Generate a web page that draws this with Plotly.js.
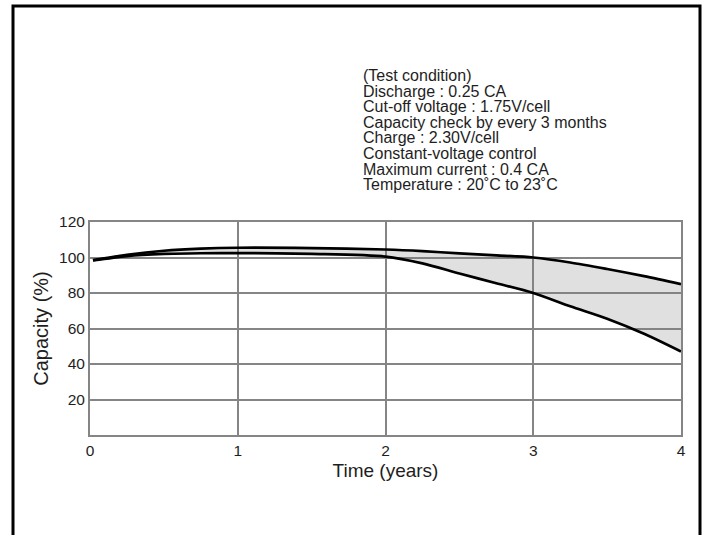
<!DOCTYPE html>
<html>
<head>
<meta charset="utf-8">
<script src="https://cdn.plot.ly/plotly-3.0.1.min.js"></script>
<style>
html,body{margin:0;padding:0;background:#fff;}
#chart{width:709px;height:535px;}
</style>
</head>
<body>
<div id="chart"></div>
<script>
// Data
var timeYears = [0.02, 0.25, 0.5, 0.75, 1, 1.5, 2, 2.25, 2.5, 2.75, 3, 3.25, 3.5, 3.75, 4];
var upperCapacity = [98.5, 101.5, 103.8, 105, 105.5, 105.3, 104.5, 103.6, 102.3, 101.2, 100, 97.2, 93.5, 89.5, 85];
var lowerCapacity = [98.3, 100.8, 102, 102.4, 102.5, 102, 100.5, 96.7, 91, 85.5, 80, 72.5, 65.5, 57, 47];
var xTicks = [0, 1, 2, 3, 4];
var yTicks = [20, 40, 60, 80, 100, 120];
var conditionLines = [
  "(Test condition)",
  "Discharge : 0.25 CA",
  "Cut-off voltage : 1.75V/cell",
  "Capacity check by every 3 months",
  "Charge : 2.30V/cell",
  "Constant-voltage control",
  "Maximum current : 0.4 CA",
  "Temperature : 20\u02daC to 23\u02daC"
];

var FONT = "Liberation Sans, Arial, Helvetica, sans-serif";
var GRID = "#858585";
var TXT = "#1e1e1e";

var traces = [
  {
    x: timeYears, y: upperCapacity, type: "scatter", mode: "lines",
    line: {color: "#000", width: 2.7, shape: "spline", smoothing: 0.8},
    hoverinfo: "skip", showlegend: false
  },
  {
    x: timeYears, y: lowerCapacity, type: "scatter", mode: "lines",
    fill: "tonexty", fillcolor: "rgba(128,128,128,0.244)",
    line: {color: "#000", width: 2.7, shape: "spline", smoothing: 0.8},
    hoverinfo: "skip", showlegend: false
  }
];

var plotL = 90, plotR = 681, plotT = 222, plotB = 435;
var pw = plotR - plotL, ph = plotB - plotT;
function px2x(p){ return (p - plotL) / pw; }
function py2y(p){ return (plotB - p) / ph; }

// one block of text; base size 12 sets the tight line pitch, spans set glyph size
var blockText = conditionLines.map(function(t){
  return '<span style="font-size:16px">' + t + '</span>';
}).join("<br>");

var layout = {
  width: 709, height: 535,
  margin: {l: plotL, r: 709 - plotR, t: plotT, b: 535 - plotB, pad: 0},
  paper_bgcolor: "#fff", plot_bgcolor: "#fff",
  font: {family: FONT, color: TXT},
  xaxis: {
    range: [0, 4], tickvals: xTicks, ticktext: xTicks.map(String),
    showgrid: true, gridcolor: GRID, gridwidth: 2,
    showline: true, linecolor: GRID, linewidth: 2, mirror: true,
    zeroline: false, ticks: "", fixedrange: true,
    tickfont: {family: FONT, size: 15.5, color: TXT},
    title: {text: "Time (years)", font: {family: FONT, size: 19, color: TXT}, standoff: 6}
  },
  yaxis: {
    range: [0, 120], tickvals: yTicks, ticktext: yTicks.map(String),
    showgrid: true, gridcolor: GRID, gridwidth: 2,
    showline: true, linecolor: GRID, linewidth: 2, mirror: true,
    zeroline: false, ticks: "", fixedrange: true,
    tickfont: {family: FONT, size: 15.5, color: TXT},
    title: {text: "Capacity (%)", font: {family: FONT, size: 20, color: TXT}, standoff: 5}
  },
  annotations: [{
    text: blockText, xref: "paper", yref: "paper",
    x: px2x(361), y: py2y(65),
    xanchor: "left", yanchor: "top", align: "left", showarrow: false,
    font: {family: FONT, size: 12, color: TXT}
  }],
  shapes: [
    {type: "path", xref: "paper", yref: "paper",
     path: "M " + px2x(13) + "," + py2y(560) + " L " + px2x(13) + "," + py2y(6) +
           " L " + px2x(700) + "," + py2y(6) + " L " + px2x(700) + "," + py2y(560),
     line: {color: "#000", width: 3}}
  ]
};

Plotly.newPlot("chart", traces, layout, {displayModeBar: false, staticPlot: true});
</script>
</body>
</html>
